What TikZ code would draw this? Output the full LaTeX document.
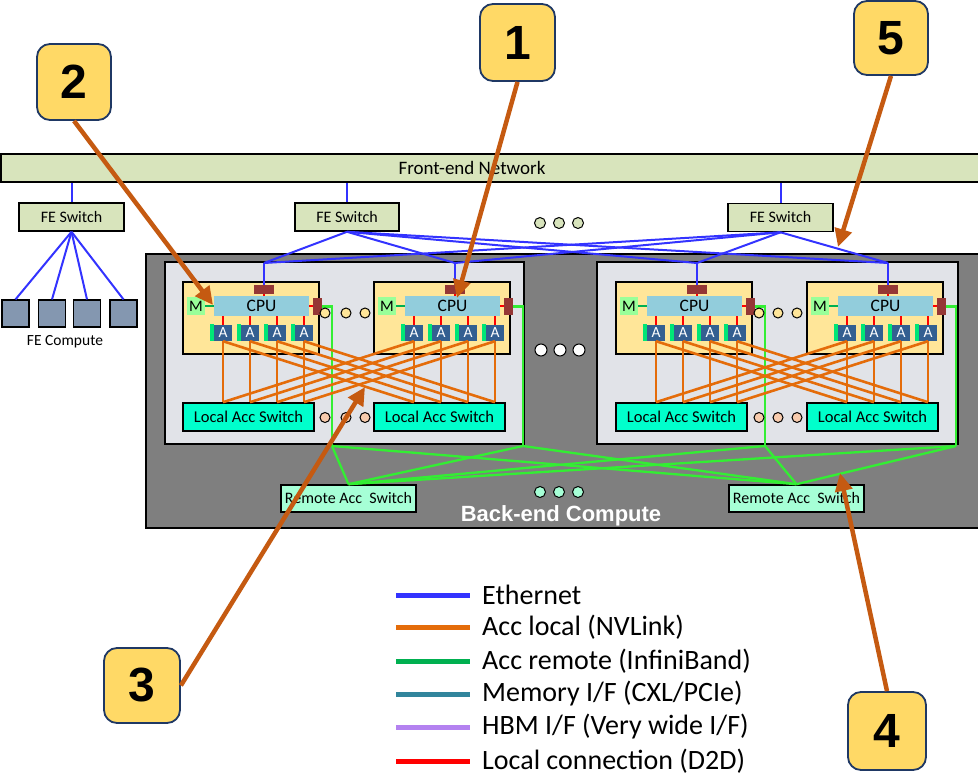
\documentclass[tikz,border=0pt]{standalone}
\usepackage{fontspec}
\setmainfont{Carlito}
\newfontfamily\boldsans{Liberation Sans}
\usepackage{xcolor}
\usepackage{tikz}
\usetikzlibrary{arrows.meta}

\definecolor{feGreen}{HTML}{D8E4BC}
\definecolor{compGrey}{HTML}{8497B0}
\definecolor{beGrey}{HTML}{7F7F7F}
\definecolor{innerGrey}{HTML}{E1E3E8}
\definecolor{nodeYellow}{HTML}{FFE699}
\definecolor{cpuBlue}{HTML}{92CDDC}
\definecolor{mGreen}{HTML}{99FF99}
\definecolor{connRed}{HTML}{953735}
\definecolor{accBlue}{HTML}{335F91}
\definecolor{stripGreen}{HTML}{00E676}
\definecolor{localSw}{HTML}{00FFCC}
\definecolor{remoteSw}{HTML}{A6FFD6}
\definecolor{dotOrange}{HTML}{F8CBAD}
\definecolor{calloutFill}{HTML}{FFD966}
\definecolor{calloutLine}{HTML}{1F3864}
\definecolor{arrowOrange}{HTML}{C55A11}
\definecolor{ethBlue}{HTML}{3333FF}
\definecolor{nvOrange}{HTML}{E46C0A}
\definecolor{ibGreen}{HTML}{00B050}
\definecolor{ibBright}{HTML}{33EE33}
\definecolor{memTeal}{HTML}{31859C}
\definecolor{hbmPurple}{HTML}{B482F0}
\definecolor{d2dRed}{HTML}{FF0000}

\newcommand{\fsz}[1]{\fontsize{#1}{#1}\selectfont}

\tikzset{
  swbox/.style={draw=black, line width=1.6pt, fill=feGreen, inner sep=0pt, minimum height=28pt, font=\fsz{16}},
  fenet/.style={draw=black, line width=1.6pt, fill=feGreen, inner sep=0pt, minimum height=28pt},
  fecomp/.style={draw=black, line width=1.2pt, fill=compGrey, inner sep=0pt, minimum size=27pt},
  beframe/.style={draw=black, line width=1.6pt, fill=beGrey, inner sep=0pt},
  innerbox/.style={draw=black, line width=1.6pt, fill=innerGrey, inner sep=0pt},
  srv/.style={draw=black, line width=1.1pt, fill=nodeYellow, inner sep=0pt, minimum width=136pt, minimum height=72pt},
  mbox/.style={fill=mGreen, inner sep=0pt, minimum size=18pt, font=\fsz{16}},
  cpubox/.style={fill=cpuBlue, inner sep=0pt, minimum width=95pt, minimum height=20pt, font=\fsz{17.5}},
  conn/.style={fill=connRed, inner sep=0pt},
  accel/.style={fill=accBlue, text=white, inner sep=0pt, minimum width=18pt, minimum height=16pt, font=\fsz{15.5}},
  accstrip/.style={fill=stripGreen},
  lsw/.style={draw=black, line width=1.6pt, fill=localSw, inner sep=0pt, minimum width=131pt, minimum height=28pt, font=\fsz{16.5}},
  rsw/.style={draw=black, line width=1.6pt, fill=remoteSw, inner sep=0pt, minimum width=135pt, minimum height=27pt, font=\fsz{16}},
  dot/.style={draw=black, line width=1pt},
  eth/.style={ethBlue, line width=2pt},
  nvl/.style={nvOrange, line width=2.6pt},
  ibline/.style={ibBright, line width=2.3pt},
  memlink/.style={ibGreen, line width=2.2pt},
  d2d/.style={d2dRed, line width=2pt},
  callout/.style={draw=calloutLine, line width=1.8pt, fill=calloutFill, rounded corners=13pt, inner sep=0pt, font=\boldsans\bfseries\fsz{48}},
  callarrow/.style={arrowOrange, line width=4.5pt, -{Triangle[length=18pt, width=17pt]}},
  legline/.style={line width=5pt},
  legtext/.style={anchor=west, inner sep=0pt, font=\fsz{28}}
}

\begin{document}
\begin{tikzpicture}[x=1pt, y=-1pt]
        \useasboundingbox (0,0) rectangle (978,776);

        \node[fenet, minimum width=990pt] (fen) at (496,168) {};
        \node[font=\fsz{19}] (fentext) at (472,168) {Front-end Network};

        \node[swbox, minimum width=105pt] (fesw1) at (71.5,217) {FE Switch};
        \node[swbox, minimum width=104pt] (fesw2) at (347,217) {FE Switch};
        \node[swbox, minimum width=105pt] (fesw3) at (780.5,217.5) {FE Switch};

        \draw[eth] (fesw1.north) -- (fesw1.north |- fen.south);
        \draw[eth] (fesw2.north) -- (fesw2.north |- fen.south);
        \draw[eth] (fesw3.north) -- (fesw3.north |- fen.south);

        \foreach \x in {540,559,578}
            \draw[dot, fill=feGreen] (\x,223) circle (5.5pt);

        \node[fecomp] (fec1) at (15.5,313.5) {};
        \node[fecomp] (fec2) at (52,313.5) {};
        \node[fecomp] (fec3) at (87,313.5) {};
        \node[fecomp] (fec4) at (123.5,313.5) {};
        \node[font=\fsz{15.5}] (fectext) at (65,342) {FE Compute};

        \draw[eth] (fesw1.south) -- (fec1.north);
        \draw[eth] (fesw1.south) -- (fec2.north);
        \draw[eth] (fesw1.south) -- (fec3.north);
        \draw[eth] (fesw1.south) -- (fec4.north);

        %%%

        \node[beframe, minimum width=840pt, minimum height=274pt] (be) at (566,391) {};
        \node[innerbox, minimum width=359pt, minimum height=182pt] (in1) at (344.5,353) {};
        \node[innerbox, minimum width=361pt, minimum height=182pt] (in2) at (777.5,353) {};

        \foreach \x in {541,560,579}
            \draw[dot, fill=white] (\x,350) circle (6pt);

        \foreach \i/\L in {1/183, 2/374, 3/616, 4/807} {
            \node[srv] (srv\i) at (\L+68,318) {};
            \node[mbox] (m\i) at (\L+13,306) {M};
            \node[cpubox] (cpu\i) at (\L+78.5,306) {CPU};
            \node[conn, minimum width=20pt, minimum height=9pt] (tc\i) at (\L+81,289.5) {};
            \node[conn, minimum width=9pt, minimum height=17pt] (rc\i) at (\L+134.5,306.5) {};
            \draw[memlink] (m\i) -- (cpu\i);
            \draw[d2d] (tc\i) -- (tc\i |- cpu\i.north);
            \draw[d2d] (cpu\i.east) -- (rc\i.west |- cpu\i.east);
            \foreach \k in {0,...,3} {
                \node[accel] (a\i\k) at (\L+40+27*\k,333) {A};
                \fill[accstrip] (a\i\k.south west) rectangle ++(-4,-17);
                \draw[d2d] (a\i\k.north) -- (a\i\k.north |- cpu\i.south);
            }
            \node[lsw] (ls\i) at (\L+65.5,417) {Local Acc Switch};
            \coordinate (g\i) at (\L+149,446);
            \coordinate (e\i) at (\L+81,263);
            \draw[ibline] (rc\i.east) -| (g\i);
            \draw[eth] (tc\i.north) -- (e\i);
        }

        \foreach \p/\q in {1/2, 2/1, 3/4, 4/3}
            \foreach \k in {0,...,3} {
                \draw[nvl] (a\p\k.south) -- (a\p\k.south |- ls\p.north);
                \draw[nvl] (a\p\k.south) -- (a\q\k.south |- ls\q.north);
            }

        \foreach \x in {325,346,365,759,778,797} {
            \draw[dot, fill=nodeYellow] (\x,313) circle (5pt);
            \draw[dot, fill=dotOrange] (\x,417.5) circle (5pt);
        }

        \node[rsw] (rsw1) at (348.5,498.5) {Remote Acc\ \ Switch};
        \node[rsw] (rsw2) at (796.5,498.5) {Remote Acc\ \ Switch};

        \foreach \x in {540,559,578}
            \draw[dot, fill=remoteSw] (\x,492) circle (5.5pt);

        \node[font=\boldsans\bfseries\fsz{22}, text=white] (betext) at (561,516) {Back-end Compute};

        \foreach \i in {1,...,4} {
            \draw[ibline] (g\i) -- (rsw1.north);
            \draw[ibline] (g\i) -- (rsw2.north);
            \draw[eth] (e\i) -- (fesw2.south);
            \draw[eth] (e\i) -- (fesw3.south);
        }

        %%%

        \draw[legline, ethBlue] (396,595) -- (470,595);
        \node[legtext] (lg1) at (482,595) {Ethernet};
        \draw[legline, nvOrange] (396,627) -- (470,627);
        \node[legtext] (lg2) at (482,627) {Acc local (NVLink)};
        \draw[legline, ibGreen] (396,661) -- (470,661);
        \node[legtext] (lg3) at (482,661) {Acc remote (InfiniBand)};
        \draw[legline, memTeal] (396,694) -- (470,694);
        \node[legtext] (lg4) at (482,694) {Memory I/F (CXL/PCIe)};
        \draw[legline, hbmPurple] (396,727) -- (470,727);
        \node[legtext] (lg5) at (482,727) {HBM I/F (Very wide I/F)};
        \draw[legline, d2dRed] (396,761) -- (470,761);
        \node[legtext] (lg6) at (482,761) {Local connection (D2D)};

        %%%

        \node[callout, minimum width=75pt, minimum height=77pt] (c1) at (517.5,42.5) {1};
        \node[callout, minimum width=74pt, minimum height=76pt] (c2) at (74,82) {2};
        \node[callout, minimum width=76pt, minimum height=75pt] (c3) at (142,685.5) {3};
        \node[callout, minimum width=78pt, minimum height=78pt] (c4) at (887,731) {4};
        \node[callout, minimum width=74pt, minimum height=74pt] (c5) at (891,38) {5};

        \coordinate (t1) at (457,298);
        \coordinate (t2) at (213,305);
        \coordinate (t3) at (365,387);
        \coordinate (t4) at (840,473);
        \coordinate (t5) at (838,247);

        \draw[callarrow] (c1.south) -- (t1);
        \draw[callarrow] (c2.south) -- (t2);
        \draw[callarrow] (c3.east) -- (t3);
        \draw[callarrow] (c4.north) -- (t4);
        \draw[callarrow] (c5.south) -- (t5);
    \end{tikzpicture}
\end{document}
